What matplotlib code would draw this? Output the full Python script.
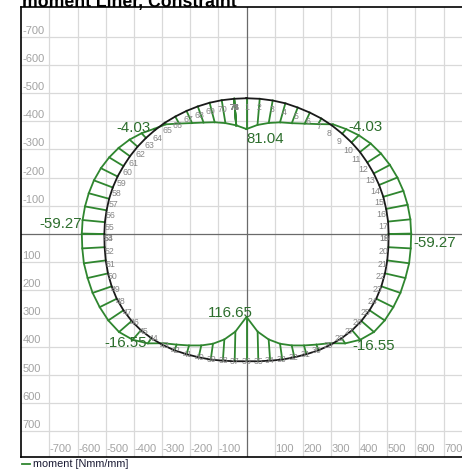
import numpy as np
import matplotlib
matplotlib.use('Agg')
import matplotlib.pyplot as plt
from matplotlib.lines import Line2D
import matplotlib.transforms as mtransforms

plt.rcParams['font.family'] = ['Liberation Sans', 'DejaVu Sans']

# liner nodes (mm), y grows downwards like in the original plot
node_id = list(range(1, 77))
node_x = [0, 47, 93, 138, 182, 225, 266, 304, 340, 373, 403, 429, 452, 471, 486, 496, 503, 505,
          505, 504, 500, 492, 479, 461, 437, 408, 375, 338, 298, 256, 213, 170, 127, 84, 42, 0,
          -42, -84, -127, -170, -213, -256, -298, -338, -375, -408, -437, -461, -479, -492, -500, -504,
          -505, -505, -503, -497, -488, -475, -458, -437, -414, -387, -357, -325, -290, -253, -213, -173, -131, -88,
          -44, -44, -44, -44, -44, -44]
node_y = [-482, -480, -474, -464, -449, -431, -410, -385, -356, -325, -291, -254, -215, -174, -132, -89, -44, 0,
          0, 47, 94, 140, 186, 230, 271, 309, 342, 370, 394, 413, 427, 438, 446, 450, 452, 452,
          452, 450, 446, 438, 427, 413, 394, 370, 342, 309, 271, 230, 186, 140, 94, 47,
          0, 0, -42, -84, -125, -165, -204, -241, -276, -310, -341, -369, -395, -417, -437, -453, -466, -475,
          -480, -480, -480, -480, -480, -480]

# moment per node [Nmm/mm], positive drawn to the inside
moment = [81.04, 69, 60, 52, 44, 32, 17, -4.03, -16, -27, -36, -43, -48, -52, -55, -57.5, -58.8, -59.27,
          -59.27, -58.8, -58, -55, -53, -50, -48, -44, -33, -16.55, 5, 16, 24, 32, 42, 56, 78, 116.65,
          78, 56, 42, 32, 24, 16, 5, -16.55, -33, -44, -48, -50, -53, -55, -58, -58.8,
          -59.27, -59.27, -58.9, -57.7, -55.5, -53, -49, -44, -37, -28, -17, -4.03, 5, 21, 35, 45, 53, 61,
          70, 70, 70, 70, 70, 70]

# nodes that get a value label: (node, ha, va, dx px, dy px)
value_labels = [(1, 'left', 'top', 0, -3),
                (36, 'right', 'bottom', 6, -3),
                (18, 'left', 'top', 2, -2),
                (54, 'right', 'bottom', 0, 3),
                (8, 'left', 'center', 15, -3),
                (64, 'right', 'center', -4, 1),
                (28, 'left', 'center', 7, -3),
                (44, 'right', 'center', -1, 0)]

ticks = list(range(-700, 0, 100)) + list(range(100, 800, 100))

SCALE = 1.35
GREEN = '#2f862f'
TEXT_GREEN = '#2d6e2d'

xy = np.column_stack([node_x, node_y]).astype(float)
m = np.array(moment, dtype=float)


def inward_normals(pts):
    n = len(pts)
    out = np.zeros_like(pts)
    for i in range(n):
        j = (i - 1) % n
        while np.allclose(pts[j], pts[i]):
            j = (j - 1) % n
        k = (i + 1) % n
        while np.allclose(pts[k], pts[i]):
            k = (k + 1) % n
        t = pts[k] - pts[j]
        nrm = np.array([-t[1], t[0]])
        nrm /= np.hypot(*nrm)
        if np.dot(nrm, -pts[i]) < 0:
            nrm = -nrm
        out[i] = nrm
    return out


normals = inward_normals(xy)
mpts = xy + normals * (m * SCALE)[:, None]

fig = plt.figure(figsize=(4.62, 4.71), dpi=100)
ax = fig.add_axes([21 / 462, 14 / 471, 451 / 462, 450 / 471])
ax.set_xlim(-801, 801)
ax.set_ylim(792, -806)

for v in ticks:
    ax.axvline(v, color='#d9d9d9', lw=0.9, zorder=0)
    ax.axhline(v, color='#d9d9d9', lw=0.9, zorder=0)
ax.axvline(0, color='#6a6a6a', lw=0.9, zorder=1)
ax.axhline(0, color='#6a6a6a', lw=0.9, zorder=1)
ax.set_xticks([])
ax.set_yticks([])
for s in ax.spines.values():
    s.set_color('black')
    s.set_linewidth(1.2)

tx = mtransforms.blended_transform_factory(ax.transData, ax.transAxes)
ty = mtransforms.blended_transform_factory(ax.transAxes, ax.transData)
for v in ticks:
    ax.text(v + 2, 0.006, str(v), transform=tx, ha='left', va='bottom',
            fontsize=8, color='#a3a3a3')
    ax.text(0.003, v - 4, str(v), transform=ty, ha='left', va='bottom',
            fontsize=8, color='#a3a3a3')

# hatch lines and moment curve
for (x0, y0), (x1, y1) in zip(xy, mpts):
    ax.plot([x0, x1], [y0, y1], color=GREEN, lw=1.3, zorder=3)
closed = np.vstack([mpts, mpts[:1]])
ax.plot(closed[:, 0], closed[:, 1], color=GREEN, lw=1.3, zorder=3)

# liner
liner = np.vstack([xy, xy[:1]])
ax.plot(liner[:, 0], liner[:, 1], color='#1a1a1a', lw=1.3, zorder=4)

# node numbers
for i, nid in enumerate(node_id):
    lx = xy[i, 0] + normals[i, 0] * 16
    ly = xy[i, 1] + normals[i, 1] * 16 + 16
    ax.text(lx, ly, str(nid), fontsize=6.3, color='#858585', ha='center', va='center', zorder=5)

# value labels
for nid, ha, va, dx, dy in value_labels:
    i = node_id.index(nid)
    ax.annotate(f'{moment[i]:.2f}', xy=(mpts[i, 0], mpts[i, 1]), xytext=(dx * 0.72, dy * 0.72),
                textcoords='offset points', ha=ha, va=va, fontsize=10.8, color=TEXT_GREEN, zorder=6)

fig.text(22 / 462, 1 - 6.5 / 471, 'moment Liner, Constraint', fontsize=12.7, fontweight='bold',
         ha='left', va='baseline', color='black')

fig.add_artist(Line2D([22 / 462, 30 / 462], [1 - 464 / 471, 1 - 464 / 471], color=GREEN, lw=1.3))
fig.text(33 / 462, 1 - 464 / 471, 'moment [Nmm/mm]', fontsize=7.8, ha='left', va='center', color='#1a1a33')

fig.savefig('out.png', dpi=100)
